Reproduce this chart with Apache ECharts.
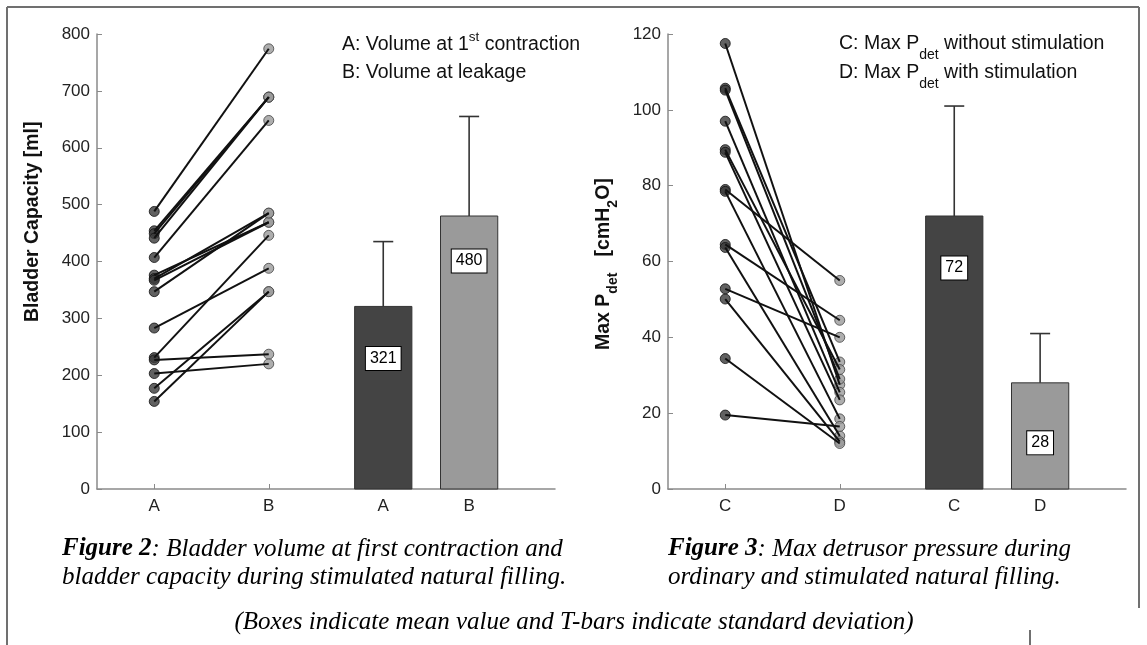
<!DOCTYPE html>
<html><head><meta charset="utf-8">
<script src="https://cdn.jsdelivr.net/npm/echarts@6/dist/echarts.min.js"></script>
<style>html,body{margin:0;padding:0;background:#fff}#c{width:1147px;height:645px}</style>
</head><body><div id="c"></div>
<script>
// ---------- data ----------
const volA = [488, 454, 449, 441, 407, 376, 370, 367, 347, 283, 231, 227, 203, 177, 154];
const volB = [774, 689, 689, 689, 648, 469, 485, 469, 485, 388, 446, 237, 220, 347, 347];
const volMeans = [321, 480];
const volSD = [114, 175];
const pdetC = [117.5, 105.7, 105.2, 97, 89.5, 88.8, 79, 78.5, 64.5, 63.7, 52.8, 50.1, 34.4, 19.5];
const pdetD = [27.5, 33.5, 29, 25.5, 31.5, 23.5, 55, 18.5, 44.5, 14, 40, 12.5, 12, 16.5];
const pdetMeans = [72, 28];
const pdetSD = [29, 13];
const xPos = [1, 2, 3, 3.75];
const leftTickLabels = ['A', 'B', 'A', 'B'];
const rightTickLabels = ['C', 'D', 'C', 'D'];
const volYTicks = [0, 100, 200, 300, 400, 500, 600, 700, 800];
const pdetYTicks = [0, 20, 40, 60, 80, 100, 120];

// ---------- helpers ----------
const SANS = 'Arial, "Liberation Sans", Helvetica, sans-serif';
const SERIF = '"Times New Roman", "Liberation Serif", serif';
const ctx = document.createElement('canvas').getContext('2d');
function run(x, y, parts, opt) {
  opt = opt || {};
  const children = []; let cx = 0;
  parts.forEach(p => {
    const font = (p.style || 'normal') + ' ' + (p.weight || 'normal') + ' ' + p.size + 'px ' + (p.family || SANS);
    ctx.font = font;
    const wd = ctx.measureText(p.t).width;
    children.push({type: 'text', x: cx, y: p.dy || 0,
      style: {text: p.t, font: font, fill: p.color || '#111', textAlign: 'left', align: 'left', textVerticalAlign: 'middle', verticalAlign: 'middle'}});
    cx += wd;
  });
  const shift = opt.align === 'center' ? -cx / 2 : 0;
  children.forEach(c => { c.x += shift; });
  return {type: 'group', x: x, y: y, rotation: opt.rotation || 0, children: children, silent: true};
}

const GRID_TOP = 34, GRID_H = 455, GRID_W = 458;
const axisGray = '#8a8a8a';

function xAxisFor(gi, labels) {
  return {gridIndex: gi, type: 'value', min: 0.5, max: 4.5,
    splitLine: {show: false},
    axisLine: {show: true, onZero: false, lineStyle: {color: axisGray, width: 1.5}},
    axisTick: {show: true, customValues: xPos, inside: true, length: 5, lineStyle: {color: axisGray}},
    axisLabel: {show: true, customValues: xPos, formatter: v => labels[xPos.indexOf(v)] || '', fontSize: 17, fontFamily: SANS, color: '#222', margin: 9}};
}
function yAxisFor(gi, ticks) {
  return {gridIndex: gi, type: 'value', min: ticks[0], max: ticks[ticks.length - 1], interval: ticks[1] - ticks[0],
    splitLine: {show: false},
    axisLine: {show: true, lineStyle: {color: axisGray, width: 1.5}},
    axisTick: {show: true, inside: true, length: 5, lineStyle: {color: axisGray}},
    axisLabel: {fontSize: 17, fontFamily: SANS, color: '#222', margin: 7}};
}

const barColors = ['#444444', '#9a9a9a'];
function makeBarItem(labelOffsets) {
  return function (params, api) {
    const x = api.value(0), m = api.value(1), sd = api.value(2), idx = params.dataIndex;
    const p0 = api.coord([x - 0.25, m]);
    const p1 = api.coord([x + 0.25, 0]);
    const top = api.coord([x, m + sd]);
    const mid = api.coord([x, m]);
    const cap = 10;
    return {type: 'group', children: [
      {type: 'rect', shape: {x: p0[0], y: p0[1], width: p1[0] - p0[0], height: p1[1] - p0[1]}, style: {fill: barColors[idx], stroke: '#333', lineWidth: 1}},
      {type: 'line', shape: {x1: mid[0], y1: mid[1], x2: top[0], y2: top[1]}, style: {stroke: '#333', lineWidth: 1.6}},
      {type: 'line', shape: {x1: top[0] - cap, y1: top[1], x2: top[0] + cap, y2: top[1]}, style: {stroke: '#333', lineWidth: 1.6}},
      {type: 'text', x: mid[0], y: mid[1] + labelOffsets[idx], z2: 10, style: {text: String(m), fontSize: 16, fontFamily: SANS, fill: '#000',
        align: 'center', verticalAlign: 'middle', textAlign: 'center', textVerticalAlign: 'middle',
        backgroundColor: '#fff', borderColor: '#000', borderWidth: 1, padding: [4, 4, 3, 4]}}
    ]};
  };
}

const series = [];
function addPaired(gi, first, second) {
  first.forEach((a, i) => {
    series.push({type: 'line', xAxisIndex: gi, yAxisIndex: gi, data: [[xPos[0], a], [xPos[1], second[i]]],
      symbol: 'none', lineStyle: {color: '#111', width: 2}, z: 4, silent: true, animation: false});
  });
  series.push({type: 'scatter', xAxisIndex: gi, yAxisIndex: gi, data: first.map(v => [xPos[0], v]), symbolSize: 10,
    itemStyle: {color: '#3a3a3a', borderColor: '#111', borderWidth: 1}, z: 3, silent: true, animation: false});
  series.push({type: 'scatter', xAxisIndex: gi, yAxisIndex: gi, data: second.map(v => [xPos[1], v]), symbolSize: 10,
    itemStyle: {color: '#9a9a9a', borderColor: '#444', borderWidth: 1}, z: 3, silent: true, animation: false});
}
addPaired(0, volA, volB);
addPaired(1, pdetC, pdetD);
series.push({type: 'custom', xAxisIndex: 0, yAxisIndex: 0, renderItem: makeBarItem([52, 45]), animation: false, silent: true,
  data: volMeans.map((m, i) => [xPos[2 + i], m, volSD[i]])});
series.push({type: 'custom', xAxisIndex: 1, yAxisIndex: 1, renderItem: makeBarItem([52, 60]), animation: false, silent: true,
  data: pdetMeans.map((m, i) => [xPos[2 + i], m, pdetSD[i]])});

const frame = {stroke: '#707070', lineWidth: 2};
const capStyle = {size: 25, style: 'italic', family: SERIF, color: '#000'};
function cap(t, bold) { return Object.assign({t: t}, capStyle, bold ? {weight: 'bold'} : {}); }
const graphic = [
  {type: 'line', shape: {x1: 7, y1: 7, x2: 1139, y2: 7}, style: frame, silent: true},
  {type: 'line', shape: {x1: 7, y1: 7, x2: 7, y2: 645}, style: frame, silent: true},
  {type: 'line', shape: {x1: 1139, y1: 7, x2: 1139, y2: 608}, style: frame, silent: true},
  {type: 'line', shape: {x1: 1030, y1: 630, x2: 1030, y2: 645}, style: frame, silent: true},
  run(33, 322, [{t: 'Bladder Capacity [ml]', size: 19.5, weight: 'bold'}], {rotation: Math.PI / 2}),
  run(604, 350, [{t: 'Max P', size: 19.5, weight: 'bold'}, {t: 'det', size: 14, weight: 'bold', dy: 9},
    {t: '   [cmH', size: 19.5, weight: 'bold'}, {t: '2', size: 14, weight: 'bold', dy: 9}, {t: 'O]', size: 19.5, weight: 'bold'}],
    {rotation: Math.PI / 2}),
  run(342, 45, [{t: 'A: Volume at 1', size: 19.5}, {t: 'st', size: 13.5, dy: -8}, {t: ' contraction', size: 19.5}]),
  run(342, 73, [{t: 'B: Volume at leakage', size: 19.5}]),
  run(839, 44, [{t: 'C: Max P', size: 19.5}, {t: 'det', size: 14, dy: 11}, {t: ' without stimulation', size: 19.5}]),
  run(839, 73, [{t: 'D: Max P', size: 19.5}, {t: 'det', size: 14, dy: 11}, {t: ' with stimulation', size: 19.5}]),
  run(62, 549, [cap('Figure 2', true), cap(': Bladder volume at first contraction and')]),
  run(62, 577, [cap('bladder capacity during stimulated natural filling.')]),
  run(668, 549, [cap('Figure 3', true), cap(': Max detrusor pressure during')]),
  run(668, 577, [cap('ordinary and stimulated natural filling.')]),
  run(574, 622, [cap('(Boxes indicate mean value and T-bars indicate standard deviation)')], {align: 'center'})
];

const chart = echarts.init(document.getElementById('c'), null, {renderer: 'canvas'});
chart.setOption({
  animation: false,
  backgroundColor: '#ffffff',
  grid: [
    {left: 97, top: GRID_TOP, width: GRID_W, height: GRID_H, containLabel: false},
    {left: 668, top: GRID_TOP, width: GRID_W, height: GRID_H, containLabel: false}
  ],
  xAxis: [xAxisFor(0, leftTickLabels), xAxisFor(1, rightTickLabels)],
  yAxis: [yAxisFor(0, volYTicks), yAxisFor(1, pdetYTicks)],
  series: series,
  graphic: graphic
});
</script></body></html>
